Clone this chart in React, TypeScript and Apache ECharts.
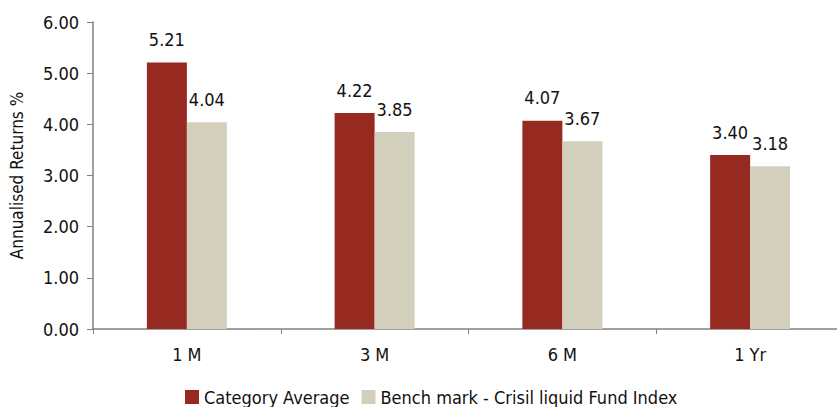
import React, { useEffect, useRef } from "react";
import * as echarts from "echarts";

const categories = ["1 M", "3 M", "6 M", "1 Yr"];
const categoryAverage = [5.21, 4.22, 4.07, 3.4];
const benchmark = [4.04, 3.85, 3.67, 3.18];
const seriesNames = ["Category Average", "Bench mark - Crisil liquid Fund Index"];

const FONT = "'DejaVu Sans Condensed', 'Liberation Sans Narrow', sans-serif";

export default function App() {
  const ref = useRef<HTMLDivElement>(null);
  useEffect(() => {
    if (!ref.current) return;
    const chart = echarts.init(ref.current, null, { renderer: "svg" });
    const labelStyle = {
      show: true,
      position: "top" as const,
      distance: 14,
      formatter: (p: any) => Number(p.value).toFixed(2),
      color: "#111",
      fontSize: 18,
      fontFamily: FONT,
    };
    chart.setOption({
      animation: false,
      textStyle: { fontFamily: FONT },
      grid: { left: 92, top: 22, width: 752, height: 307, containLabel: false },
      legend: {
        top: 383,
        left: 180,
        itemWidth: 14,
        itemHeight: 14,
        itemGap: 12,
        icon: "rect",
        textStyle: { fontSize: 18, color: "#111", fontFamily: FONT },
        data: seriesNames,
      },
      xAxis: {
        type: "category",
        data: categories,
        axisLine: { lineStyle: { color: "#808080", width: 1.5 } },
        axisTick: { show: true, length: 5, lineStyle: { color: "#808080" }, alignWithLabel: false },
        axisLabel: { color: "#111", fontSize: 18, margin: 16, fontFamily: FONT },
      },
      yAxis: {
        type: "value",
        min: 0,
        max: 6,
        interval: 1,
        name: "Annualised Returns %",
        nameLocation: "middle",
        nameGap: 68,
        nameTextStyle: { fontSize: 17, color: "#111", fontFamily: FONT },
        axisLine: { show: true, lineStyle: { color: "#808080", width: 1.5 } },
        axisTick: { show: true, length: 6, lineStyle: { color: "#808080" } },
        splitLine: { show: false },
        axisLabel: {
          color: "#111",
          fontSize: 18,
          margin: 14,
          fontFamily: FONT,
          formatter: (v: number) => v.toFixed(2),
        },
      },
      series: [
        {
          name: seriesNames[0],
          type: "bar",
          data: categoryAverage,
          barWidth: 40,
          barGap: "0%",
          itemStyle: { color: "#962920" },
          label: labelStyle,
        },
        {
          name: seriesNames[1],
          type: "bar",
          data: benchmark,
          barWidth: 40,
          itemStyle: { color: "#D2CFBC" },
          label: labelStyle,
        },
      ],
    });
    return () => chart.dispose();
  }, []);
  return (
    <div
      style={{ position: "fixed", left: 0, top: 0, width: 837, height: 407, overflow: "hidden", background: "#fff" }}
    >
      <div ref={ref} style={{ width: 850, height: 407 }} />
    </div>
  );
}
